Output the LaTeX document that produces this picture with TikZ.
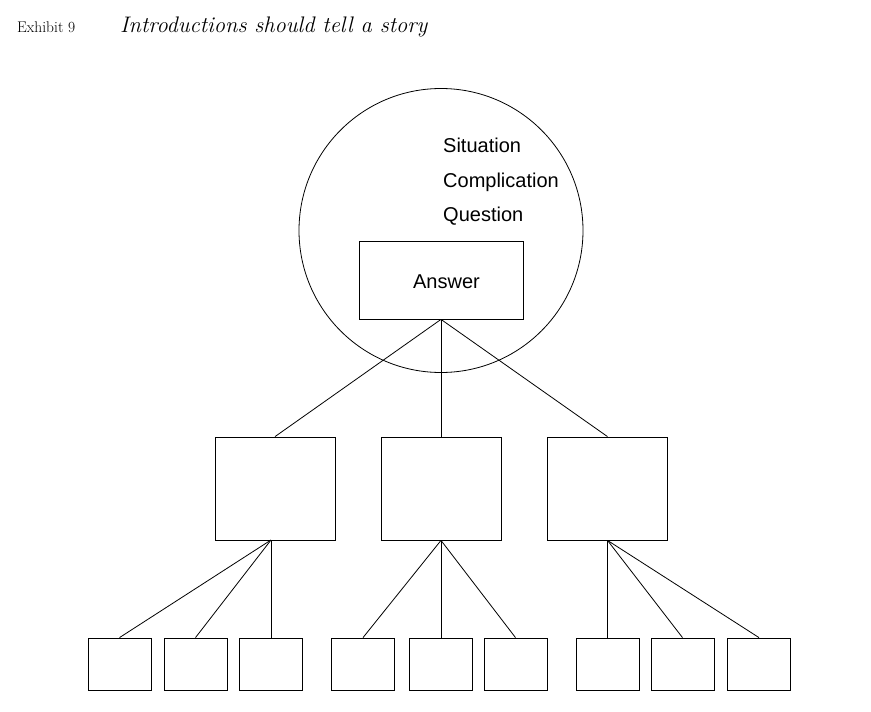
\documentclass[tikz,border=0pt]{standalone}
\usepackage{fontspec}
\setsansfont{Liberation Sans}
\begin{document}
\begin{tikzpicture}[x=1pt,y=-1pt,
  ln/.style={line width=0.8pt},
  bigbox/.style={draw,ln,minimum width=120pt,minimum height=103pt,inner sep=0pt},
  smallbox/.style={draw,ln,minimum width=63pt,minimum height=52pt,inner sep=0pt},
  lbl/.style={font=\sffamily\fontsize{20}{24}\selectfont,inner sep=0pt}]
\useasboundingbox (0,0) rectangle (871,712);
% title
\node[anchor=base west,inner sep=0pt] (ex) at (17,32) {\fontsize{15.5}{18}\selectfont Exhibit 9};
\node[anchor=base west,inner sep=0pt,font=\itshape\fontsize{22.5}{27}\selectfont] (ttl) at (120,32) {Introductions should tell a story};
% circle
\node[draw,ln,circle,minimum size=284pt,inner sep=0pt] (c) at (441,230.5) {};
\node[lbl,anchor=base west] (sit) at (443,152) {Situation};
\node[lbl,anchor=base west] (com) at (443,187) {Complication};
\node[lbl,anchor=base west] (que) at (443,221) {Question};
\node[draw,ln,minimum width=164pt,minimum height=78pt,inner sep=0pt] (ans) at (441,280) {};
\node[lbl,anchor=base] (anst) at (446.5,288) {Answer};
% middle level
\node[bigbox] (L) at (275,488.5) {};
\node[bigbox] (M) at (441,488.5) {};
\node[bigbox] (R) at (607.5,488.5) {};
\coordinate (La) at (271,540);
\draw[ln] (ans.south) -- (L.north);
\draw[ln] (ans.south) -- (M.north);
\draw[ln] (ans.south) -- (R.north);
% bottom level
\node[smallbox] (b1) at (119.5,664) {};
\node[smallbox] (b2) at (195.5,664) {};
\node[smallbox] (b3) at (271,664) {};
\node[smallbox] (b4) at (363,664) {};
\node[smallbox] (b5) at (441,664) {};
\node[smallbox] (b6) at (515.5,664) {};
\node[smallbox] (b7) at (607.5,664) {};
\node[smallbox] (b8) at (682.5,664) {};
\node[smallbox] (b9) at (759,664) {};
\draw[ln] (La) -- (b1.north);
\draw[ln] (La) -- (b2.north);
\draw[ln] (La) -- (b3.north);
\draw[ln] (M.south) -- (b4.north);
\draw[ln] (M.south) -- (b5.north);
\draw[ln] (M.south) -- (b6.north);
\draw[ln] (R.south) -- (b7.north);
\draw[ln] (R.south) -- (b8.north);
\draw[ln] (R.south) -- (b9.north);
\end{tikzpicture}
\end{document}
